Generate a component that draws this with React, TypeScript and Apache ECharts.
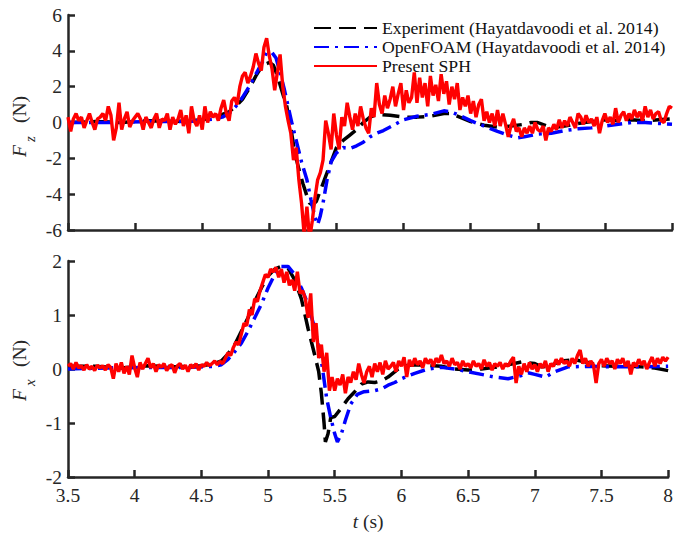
import React, { useEffect, useRef } from 'react';
import * as echarts from 'echarts';

const FONT = 'Liberation Serif';
const AXIS_COLOR = '#262626';

// x axis
const tMin = 3.5;
const tMax = 8;
const tStep = 0.5;

// y axes
const fzMin = -6, fzMax = 6, fzStep = 2;
const fxMin = -2, fxMax = 2, fxStep = 1;

const seriesNames = [
  'Experiment (Hayatdavoodi et al. 2014)',
  'OpenFOAM (Hayatdavoodi et al. 2014)',
  'Present SPH',
];

// ---------- Fz (top) ----------
const expFzT = [3.5, 3.7, 3.9, 4.1, 4.3, 4.5, 4.6, 4.65, 4.7, 4.75, 4.8, 4.85, 4.9, 4.95, 5.0, 5.03, 5.06, 5.1, 5.13, 5.16, 5.19, 5.22, 5.25, 5.28, 5.3, 5.32, 5.35, 5.38, 5.41, 5.44, 5.47, 5.5, 5.55, 5.6, 5.65, 5.7, 5.75, 5.8, 5.9, 6.0, 6.1, 6.2, 6.3, 6.35, 6.4, 6.5, 6.6, 6.7, 6.8, 6.9, 6.95, 7.0, 7.05, 7.1, 7.2, 7.3, 7.4, 7.5, 7.6, 7.7, 7.8, 7.9, 8.0];
const expFz = [0, 0.05, 0, 0.1, 0.05, 0.15, 0.3, 0.45, 0.6, 0.9, 1.3, 1.9, 2.6, 3.2, 3.35, 3.2, 2.6, 1.6, 0.9, -0.3, -1.7, -2.6, -3.4, -4.1, -4.5, -4.6, -4.4, -3.8, -3.2, -2.6, -2.0, -1.4, -1.0, -0.7, -0.4, 0.0, 0.3, 0.45, 0.4, 0.3, 0.3, 0.35, 0.5, 0.5, 0.35, 0.05, -0.15, -0.25, -0.2, -0.1, 0.0, 0.0, -0.15, -0.3, -0.2, -0.05, 0.05, 0.15, 0.1, 0.15, 0.1, 0.15, 0.2];

const ofFzT = [3.5, 3.8, 4.1, 4.4, 4.6, 4.65, 4.7, 4.75, 4.8, 4.85, 4.9, 4.95, 4.98, 5.02, 5.05, 5.08, 5.11, 5.14, 5.17, 5.2, 5.24, 5.28, 5.31, 5.34, 5.36, 5.38, 5.4, 5.43, 5.46, 5.5, 5.55, 5.6, 5.65, 5.7, 5.75, 5.8, 5.85, 5.9, 6.0, 6.1, 6.2, 6.3, 6.35, 6.4, 6.5, 6.6, 6.7, 6.8, 6.85, 6.9, 7.0, 7.1, 7.2, 7.3, 7.4, 7.5, 7.6, 7.7, 7.8, 7.9, 8.0];
const ofFz = [0, 0, 0.05, 0.05, 0.2, 0.3, 0.5, 0.9, 1.4, 2.0, 2.7, 3.4, 3.9, 3.9, 3.6, 2.8, 1.9, 0.9, -0.1, -1.0, -2.2, -3.2, -4.3, -5.3, -5.7, -5.2, -4.5, -3.2, -2.2, -1.7, -1.4, -1.45, -1.3, -1.1, -0.8, -0.6, -0.45, -0.25, 0.15, 0.35, 0.45, 0.65, 0.6, 0.45, 0.1, -0.2, -0.5, -0.75, -0.85, -0.8, -0.65, -0.6, -0.45, -0.35, -0.3, -0.2, -0.1, 0.0, 0.0, -0.05, -0.1];

// SPH samples every 0.02 s from 3.50 s to 8.00 s
const sphT0 = 3.5;
const sphDt = 0.02;
const sphFz = [
  0.3, -0.5, 0.2, 0.5, 0.1, 0.3, -0.3, 0.1, 0.5, 0.0, -0.4, 0.2, 0.3, 0.5, 0.1, 0.9, 0.4, -1.0, -0.3, 1.1, -0.4, 0.2, 0.6, -0.25, 0.1, 0.3,
  0.5, 0.2, -0.4, 0.3, 0.0, -0.3, 0.2, 0.5, -0.3, 0.2, 0.1, 0.5, -0.4, 0.3, -0.1, 0.2, 0.7, -0.2, 0.4, -0.6, 0.9, 0.1, -0.2, 0.4, -0.4,
  0.9, 0.0, 0.6, 0.3, 0.5, 0.1, 0.8, 1.25, 0.5, 0.1, 1.2, 1.4, 1.0, 2.0, 2.6, 2.8, 2.2, 2.6, 3.1, 3.85, 3.3, 2.9, 4.2, 4.7, 3.7,
  3.0, 1.8, 2.8, 3.8, 2.0, 0.9, 0.1, -0.6, -2.1, -1.4, -3.2, -4.5, -6.3, -4.7, -6.5, -5.5, -4.2, -3.2, -2.8, -2.1, 0.1, -0.6, -1.5, 0.5, -0.7,
  -1.5, 0.3, -0.2, 1.1, 0.3, -0.4, 0.5, -0.2, 0.9, 0.2, -0.3, -0.6, 0.8, 0.3, 2.2, 1.0, 0.5, 1.5, 0.8, 1.3, 2.0, 0.9, 1.6, 2.2, 0.7,
  1.8, 1.1, 1.4, 2.8, 1.1, 2.5, 1.4, 2.2, 0.9, 2.6, 1.5, 2.1, 1.2, 2.7, 1.6, 2.3, 1.0, 2.0, 1.3, 2.2, 0.7, 1.4, 0.9, 1.5, 0.5,
  1.2, 0.3, 1.0, 1.3, 0.1, 0.6, 0.0, 0.5, -0.2, 0.7, -0.2, 0.5, -0.1, -0.8, -0.2, 0.2, -0.5, -0.3, -0.8, -0.3, -0.6, -0.2, -0.6, 0.0, -0.4,
  -0.5, -0.2, -1.0, -0.3, -0.5, -0.1, -0.4, 0.15, -0.3, 0.1, -0.2, 0.3, 0.0, -0.3, 0.5, 0.3, -0.1, 0.4, 0.0, 0.2, -0.2, 0.3, -0.6, 0.1, 0.5,
  0.0, 0.3, -0.1, 0.8, 0.0, 0.4, 0.6, 0.1, 0.5, 0.2, 0.7, 0.3, 0.6, 0.1, 0.9, 0.3, 0.7, 0.2, 0.5, 0.6, 0.1, 0.0, 0.5, 0.9, 0.8,
];

// ---------- Fx (bottom) ----------
const expFxT = [3.5, 3.7, 3.9, 4.1, 4.3, 4.5, 4.6, 4.65, 4.7, 4.75, 4.8, 4.85, 4.9, 4.95, 5.0, 5.05, 5.1, 5.15, 5.2, 5.25, 5.3, 5.35, 5.38, 5.4, 5.42, 5.43, 5.45, 5.47, 5.5, 5.55, 5.6, 5.65, 5.7, 5.75, 5.8, 5.85, 5.9, 6.0, 6.1, 6.2, 6.3, 6.4, 6.5, 6.6, 6.7, 6.8, 6.9, 7.0, 7.05, 7.1, 7.2, 7.3, 7.4, 7.5, 7.6, 7.7, 7.8, 7.9, 8.0];
const expFx = [0.05, 0.05, 0.02, 0.06, 0.04, 0.06, 0.1, 0.15, 0.28, 0.45, 0.7, 0.95, 1.25, 1.5, 1.72, 1.85, 1.9, 1.87, 1.65, 1.3, 0.75, 0.26, -0.05, -0.45, -1.0, -1.35, -1.2, -0.9, -0.88, -0.72, -0.55, -0.42, -0.28, -0.24, -0.25, -0.22, -0.15, 0.05, 0.08, 0.07, 0.05, 0.0, -0.02, 0.0, 0.03, 0.08, 0.13, 0.1, 0.04, 0.05, 0.15, 0.17, 0.12, 0.06, 0.05, 0.05, 0.04, 0.02, -0.03];

const ofFxT = [3.5, 3.8, 4.1, 4.4, 4.6, 4.65, 4.7, 4.75, 4.8, 4.85, 4.9, 4.95, 5.0, 5.05, 5.1, 5.15, 5.2, 5.25, 5.3, 5.35, 5.4, 5.44, 5.47, 5.5, 5.52, 5.55, 5.58, 5.62, 5.67, 5.72, 5.8, 5.85, 5.9, 5.95, 6.0, 6.1, 6.2, 6.3, 6.4, 6.5, 6.6, 6.7, 6.8, 6.9, 6.95, 7.0, 7.08, 7.15, 7.25, 7.4, 7.6, 7.8, 8.0];
const ofFx = [0.0, 0.02, 0.03, 0.03, 0.05, 0.08, 0.18, 0.32, 0.48, 0.7, 0.95, 1.2, 1.5, 1.75, 1.9, 1.9, 1.75, 1.5, 1.2, 0.75, 0.15, -0.55, -0.9, -1.2, -1.35, -1.2, -0.95, -0.65, -0.47, -0.42, -0.4, -0.37, -0.3, -0.25, -0.18, -0.08, 0.0, 0.03, 0.0, -0.05, -0.1, -0.15, -0.18, -0.12, -0.07, -0.1, -0.15, -0.05, 0.04, 0.05, 0.04, 0.04, 0.05];

const sphFx = [
  0.05, 0.1, 0.0, 0.12, 0.02, 0.06, -0.02, 0.08, 0.0, 0.05, -0.03, 0.07, 0.02, 0.06, -0.02, 0.08, 0.03, -0.18, 0.1, -0.05, 0.12, -0.08, 0.05, -0.1, 0.25, 0.02,
  -0.15, 0.12, 0.0, 0.1, 0.2, 0.02, 0.1, -0.05, 0.08, 0.03, 0.1, -0.03, 0.05, 0.08, -0.07, 0.06, 0.1, 0.0, 0.07, -0.05, 0.08, 0.02, 0.1, -0.02, 0.08,
  0.05, 0.12, 0.06, 0.1, 0.15, 0.08, 0.14, 0.1, 0.2, 0.3, 0.25, 0.4, 0.5, 0.45, 0.65, 0.85, 0.8, 1.1, 1.0, 1.3, 1.25, 1.45, 1.6, 1.75, 1.7,
  1.85, 1.8, 1.88, 1.7, 1.85, 1.6, 1.8, 1.55, 1.65, 1.45, 1.8, 1.4, 1.45, 1.3, 0.95, 1.4, 0.5, 0.85, 0.2, 0.45, -0.05, 0.3, -0.4, -0.15, -0.4,
  -0.18, -0.3, -0.1, -0.45, -0.15, -0.25, -0.05, -0.2, 0.1, -0.1, -0.26, -0.05, 0.05, -0.15, 0.1, -0.05, 0.12, -0.1, 0.15, 0.0, 0.05, 0.12, -0.05, 0.15, 0.05,
  0.22, -0.15, 0.17, 0.05, 0.2, 0.08, 0.15, 0.02, 0.2, 0.1, 0.18, 0.05, 0.2, 0.12, 0.26, 0.1, 0.15, 0.05, 0.2, 0.08, 0.12, 0.0, 0.15, 0.05, 0.1,
  0.02, 0.15, 0.05, 0.1, 0.0, 0.17, 0.05, 0.12, -0.02, 0.1, 0.05, 0.12, 0.0, 0.1, 0.05, 0.15, 0.22, -0.26, 0.05, -0.1, 0.1, -0.05, 0.12, 0.0, 0.08,
  -0.05, 0.1, 0.02, 0.15, -0.05, 0.1, 0.05, 0.18, 0.08, 0.2, 0.1, 0.15, 0.05, 0.2, 0.1, 0.25, 0.35, 0.1, 0.2, 0.05, 0.15, 0.08, -0.26, 0.1, 0.18,
  0.05, 0.2, 0.1, 0.15, 0.0, 0.18, 0.1, 0.2, 0.05, 0.15, -0.1, 0.12, 0.05, 0.18, 0.08, 0.15, 0.0, 0.12, 0.22, 0.05, 0.2, 0.1, 0.22, 0.15, 0.22,
];

const zip = (ts: number[], vs: number[]) => ts.map((t, i) => [t, vs[i]]);
const zipUniform = (vs: number[]) => vs.map((v, i) => [+(sphT0 + i * sphDt).toFixed(3), v]);

const expStyle = { color: '#000000', width: 3.5, type: [17, 8] as number[] };
const ofStyle = { color: '#0000ff', width: 3.5, type: [15, 6, 3, 6] as number[] };
const sphStyle = { color: '#ff0000', width: 3.4, type: 'solid' as const };

function mkX(gridIndex: number, showLabels: boolean) {
  return {
    type: 'value',
    gridIndex,
    min: tMin,
    max: tMax,
    interval: tStep,
    axisLine: { show: true, onZero: false, lineStyle: { color: AXIS_COLOR, width: 2.5 } },
    axisTick: { show: true, inside: true, length: 7, lineStyle: { color: AXIS_COLOR, width: 2.5 } },
    axisLabel: {
      show: showLabels,
      color: AXIS_COLOR,
      fontFamily: FONT,
      fontSize: 19.5,
      margin: 8,
    },
    splitLine: { show: false },
    name: showLabels ? '{it|t} (s)' : '',
    nameLocation: 'middle',
    nameGap: 34,
    nameTextStyle: {
      color: AXIS_COLOR,
      fontFamily: FONT,
      fontSize: 19.5,
      rich: { it: { fontStyle: 'italic', fontFamily: FONT, fontSize: 19.5, color: AXIS_COLOR } },
    },
  };
}

function mkY(gridIndex: number, min: number, max: number, interval: number) {
  return {
    type: 'value',
    gridIndex,
    min,
    max,
    interval,
    axisLine: { show: true, onZero: false, lineStyle: { color: AXIS_COLOR, width: 2.5 } },
    axisTick: { show: true, inside: true, length: 7, lineStyle: { color: AXIS_COLOR, width: 2.5 } },
    axisLabel: { color: AXIS_COLOR, fontFamily: FONT, fontSize: 19.5, margin: 6 },
    splitLine: { show: false },
  };
}

function yLabel(x: number, y: number, sub: string) {
  return {
    type: 'group',
    x,
    y,
    rotation: Math.PI / 2,
    children: [
      {
        type: 'text',
        x: 0,
        y: 0,
        style: { text: 'F', fontFamily: FONT, fontStyle: 'italic', fontSize: 19.5, fill: AXIS_COLOR, align: 'left', verticalAlign: 'middle' },
      },
      {
        type: 'text',
        x: 15,
        y: 11,
        style: { text: sub, fontFamily: FONT, fontStyle: 'italic', fontSize: 15, fill: AXIS_COLOR, align: 'left', verticalAlign: 'middle' },
      },
      {
        type: 'text',
        x: 34,
        y: 0,
        style: { text: '(N)', fontFamily: FONT, fontSize: 19.5, fill: AXIS_COLOR, align: 'left', verticalAlign: 'middle' },
      },
    ],
  };
}

function line(name: string, xi: number, data: number[][], lineStyle: any, z: number) {
  return {
    name,
    type: 'line',
    xAxisIndex: xi,
    yAxisIndex: xi,
    data,
    symbol: 'none',
    showSymbol: false,
    lineStyle,
    itemStyle: { color: lineStyle.color },
    z,
    clip: true,
  };
}

export default function App() {
  const ref = useRef<HTMLDivElement>(null);
  useEffect(() => {
    document.body.style.margin = '0';
    const chart = echarts.init(ref.current!, undefined, { renderer: 'svg' });
    const option: any = {
      animation: false,
      backgroundColor: '#ffffff',
      textStyle: { fontFamily: FONT },
      grid: [
        { left: 68, right: 4, top: 15, height: 215 },
        { left: 68, right: 4, top: 261, height: 216 },
      ],
      legend: {
        orient: 'vertical',
        left: 308,
        top: 14,
        itemWidth: 63,
        itemHeight: 12,
        itemGap: 1,
        itemStyle: { opacity: 0 },
        textStyle: { color: '#111111', fontFamily: FONT, fontSize: 17.7 },
        data: seriesNames,
      },
      xAxis: [mkX(0, false), mkX(1, true)],
      yAxis: [mkY(0, fzMin, fzMax, fzStep), mkY(1, fxMin, fxMax, fxStep)],
      series: [
        line(seriesNames[0], 0, zip(expFzT, expFz), expStyle, 2),
        line(seriesNames[1], 0, zip(ofFzT, ofFz), ofStyle, 3),
        line(seriesNames[2], 0, zipUniform(sphFz), sphStyle, 4),
        line(seriesNames[0], 1, zip(expFxT, expFx), expStyle, 2),
        line(seriesNames[1], 1, zip(ofFxT, ofFx), ofStyle, 3),
        line(seriesNames[2], 1, zipUniform(sphFx), sphStyle, 4),
      ],
      graphic: [yLabel(19, 157, 'z'), yLabel(19, 401, 'x')],
    };
    chart.setOption(option);
    return () => chart.dispose();
  }, []);
  return <div ref={ref} style={{ width: 676, height: 533 }} />;
}
